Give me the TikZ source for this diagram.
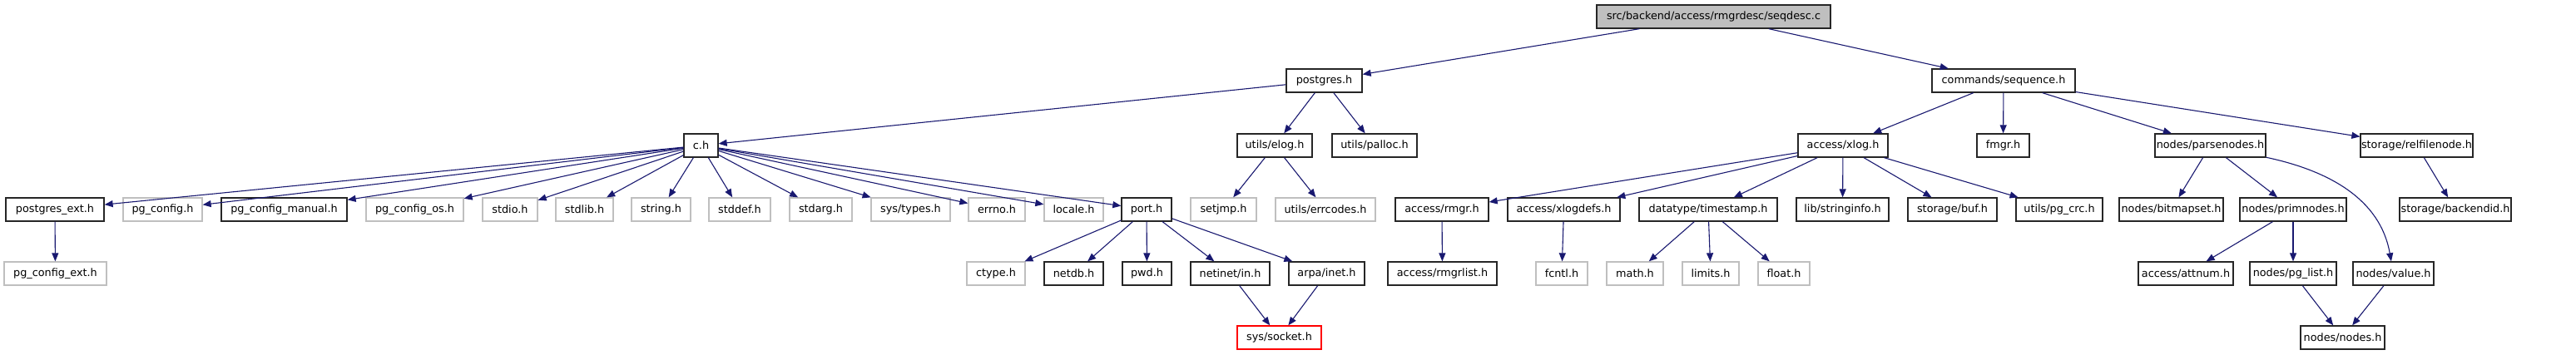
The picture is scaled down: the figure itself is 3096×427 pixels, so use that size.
\documentclass[tikz,border=0pt]{standalone}
\usepackage{fontspec}
\setmainfont{DejaVu Sans}
\usetikzlibrary{arrows.meta}
\definecolor{edgecol}{HTML}{191970}
\definecolor{greyc}{HTML}{BFBFBF}
\tikzset{
 nbox/.style={draw=black!85, line width=1.3pt, rectangle, minimum height=28pt, inner sep=0pt, font=\fontsize{12.8}{15}\selectfont, fill=white},
 gbox/.style={nbox, draw=greyc},
 rbox/.style={nbox, draw=red},
 rootbox/.style={nbox, fill=greyc},
 edge/.style={draw=edgecol, line width=1.1pt, -{Triangle[length=10pt,width=8pt]}},
}
\begin{document}
\begin{tikzpicture}[x=1pt,y=-1pt]
\useasboundingbox (0,0) rectangle (3096,427);
% row 0
\node[rootbox, minimum width=281pt] (root) at (2059.5,20) {src/backend/access/rmgrdesc/seqdesc.c};
% row 1
\node[nbox, minimum width=91pt] (postgres) at (1591.5,97) {postgres.h};
\node[nbox, minimum width=172pt] (seq) at (2408,97) {commands/sequence.h};
% row 2
\node[nbox, minimum width=41pt] (ch) at (842.5,175) {c.h};
\node[nbox, minimum width=90pt] (elog) at (1532,175) {utils/elog.h};
\node[nbox, minimum width=102pt] (palloc) at (1652,175) {utils/palloc.h};
\node[nbox, minimum width=108pt] (xlog) at (2215,175) {access/xlog.h};
\node[nbox, minimum width=63pt] (fmgr) at (2407.5,175) {fmgr.h};
\node[nbox, minimum width=133pt] (parsenodes) at (2656.5,175) {nodes/parsenodes.h};
\node[nbox, minimum width=135pt] (relfilenode) at (2904.5,175) {storage/relfilenode.h};
% row 3
\node[nbox, minimum width=118pt] (pgext) at (66,252) {postgres\_ext.h};
\node[gbox, minimum width=95pt] (pgconfig) at (195.5,252) {pg\_config.h};
\node[nbox, minimum width=151pt] (pgmanual) at (341.5,252) {pg\_config\_manual.h};
\node[gbox, minimum width=117pt] (pgos) at (498.5,252) {pg\_config\_os.h};
\node[gbox, minimum width=66pt] (stdio) at (613,252) {stdio.h};
\node[gbox, minimum width=69pt] (stdlib) at (702.5,252) {stdlib.h};
\node[gbox, minimum width=71pt] (string) at (794.5,252) {string.h};
\node[gbox, minimum width=74pt] (stddef) at (889,252) {stddef.h};
\node[gbox, minimum width=75pt] (stdarg) at (986.5,252) {stdarg.h};
\node[gbox, minimum width=95pt] (systypes) at (1094.5,252) {sys/types.h};
\node[gbox, minimum width=68pt] (errno) at (1198,252) {errno.h};
\node[gbox, minimum width=71pt] (locale) at (1290.5,252) {locale.h};
\node[nbox, minimum width=60pt] (port) at (1378,252) {port.h};
\node[gbox, minimum width=79pt] (setjmp) at (1470.5,252) {setjmp.h};
\node[gbox, minimum width=120pt] (errcodes) at (1593,252) {utils/errcodes.h};
\node[nbox, minimum width=112pt] (rmgr) at (1733,252) {access/rmgr.h};
\node[nbox, minimum width=135pt] (xlogdefs) at (1879.5,252) {access/xlogdefs.h};
\node[nbox, minimum width=166pt] (timestamp) at (2053,252) {datatype/timestamp.h};
\node[nbox, minimum width=111pt] (stringinfo) at (2214.5,252) {lib/stringinfo.h};
\node[nbox, minimum width=107pt] (buf) at (2346.5,252) {storage/buf.h};
\node[nbox, minimum width=104pt] (pgcrc) at (2475,252) {utils/pg\_crc.h};
\node[nbox, minimum width=125pt] (bitmapset) at (2609.5,252) {nodes/bitmapset.h};
\node[nbox, minimum width=128pt] (primnodes) at (2756,252) {nodes/primnodes.h};
\node[nbox, minimum width=134pt] (backendid) at (2951,252) {storage/backendid.h};
% row 4
\node[gbox, minimum width=123pt] (pgcext) at (66.5,329) {pg\_config\_ext.h};
\node[gbox, minimum width=70pt] (ctype) at (1197,329) {ctype.h};
\node[nbox, minimum width=71pt] (netdb) at (1290.5,329) {netdb.h};
\node[nbox, minimum width=59pt] (pwd) at (1378.5,329) {pwd.h};
\node[nbox, minimum width=95pt] (netinet) at (1478.5,329) {netinet/in.h};
\node[nbox, minimum width=91pt] (arpa) at (1594.5,329) {arpa/inet.h};
\node[nbox, minimum width=131pt] (rmgrlist) at (1733.5,329) {access/rmgrlist.h};
\node[gbox, minimum width=62pt] (fcntl) at (1877,329) {fcntl.h};
\node[gbox, minimum width=68pt] (math) at (1965,329) {math.h};
\node[gbox, minimum width=68pt] (limits) at (2056,329) {limits.h};
\node[gbox, minimum width=62pt] (float) at (2144,329) {float.h};
\node[nbox, minimum width=114pt] (attnum) at (2627,329) {access/attnum.h};
\node[nbox, minimum width=104pt] (pglist) at (2756,329) {nodes/pg\_list.h};
\node[nbox, minimum width=97pt] (value) at (2876.5,329) {nodes/value.h};
% row 5
\node[rbox, minimum width=101pt] (socket) at (1537.5,406) {sys/socket.h};
\node[nbox, minimum width=101pt] (nodes) at (2815.5,406) {nodes/nodes.h};
% edges
\draw[edge] (root) -- (postgres);
\draw[edge] (root) -- (seq);
\draw[edge] (postgres) -- (ch);
\draw[edge] (postgres) -- (elog);
\draw[edge] (postgres) -- (palloc);
\foreach \t in {pgext,pgconfig,pgmanual,pgos,stdio,stdlib,string,stddef,stdarg,systypes,errno,locale,port}
  \draw[edge] (ch) -- (\t);
\draw[edge] (pgext) -- (pgcext);
\foreach \t in {ctype,netdb,pwd,netinet,arpa}
  \draw[edge] (port) -- (\t);
\draw[edge] (netinet) -- (socket);
\draw[edge] (arpa) -- (socket);
\draw[edge] (elog) -- (setjmp);
\draw[edge] (elog) -- (errcodes);
\foreach \t in {xlog,fmgr,parsenodes,relfilenode}
  \draw[edge] (seq) -- (\t);
\foreach \t in {rmgr,xlogdefs,timestamp,stringinfo,buf,pgcrc}
  \draw[edge] (xlog) -- (\t);
\draw[edge] (rmgr) -- (rmgrlist);
\draw[edge] (xlogdefs) -- (fcntl);
\foreach \t in {math,limits,float}
  \draw[edge] (timestamp) -- (\t);
\draw[edge] (parsenodes) -- (bitmapset);
\draw[edge] (parsenodes) -- (primnodes);
\draw[edge] (parsenodes.-12) to[out=-12,in=100] (value.100);
\draw[edge] (relfilenode) -- (backendid);
\draw[edge] (primnodes) -- (attnum);
\draw[edge] (primnodes) -- (pglist);
\draw[edge] (pglist) -- (nodes);
\draw[edge] (value) -- (nodes);
\end{tikzpicture}
\end{document}
